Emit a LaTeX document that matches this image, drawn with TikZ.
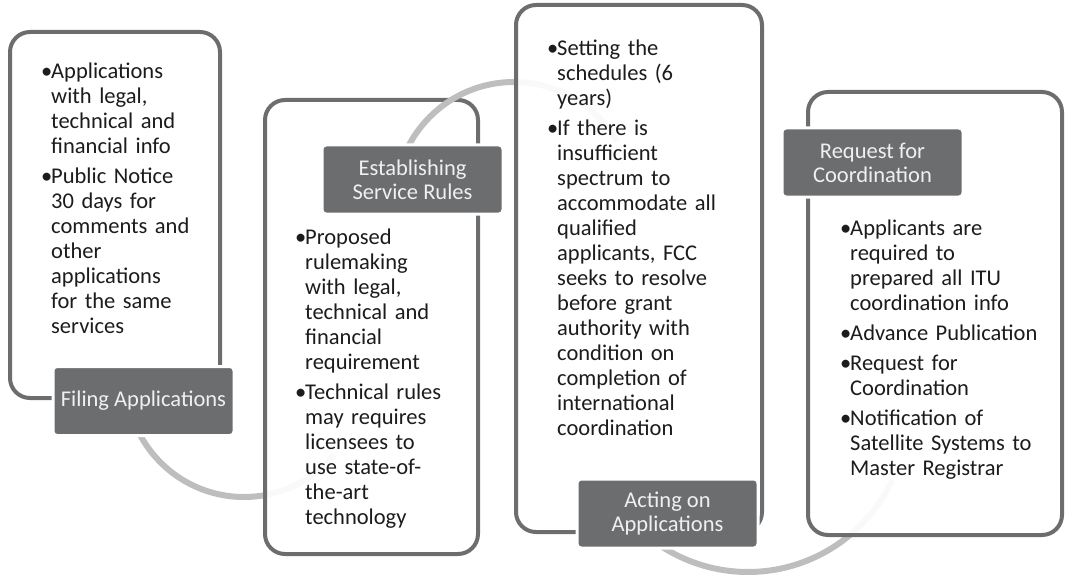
\documentclass[tikz,border=0pt]{standalone}
\usepackage{fontspec}
\setmainfont{Carlito}
\usetikzlibrary{positioning}
\definecolor{fg}{RGB}{28,28,28}
\definecolor{rim}{RGB}{108,109,111}
\definecolor{tagfill}{RGB}{108,109,111}
\definecolor{arcgray}{RGB}{190,190,190}
\definecolor{bg}{RGB}{255,255,255}
% Stichpunkt mit hängendem Einzug
\newcommand{\bul}[1]{\hangindent=10pt\hangafter=1\noindent\makebox[10pt][l]{\textbullet}#1\par}
\tikzset{
  every picture/.style={line join=round},
  every node/.style={font=\fontsize{22.5}{25}\selectfont},
  % Rahmen der Schritte (leicht durchscheinend, damit die Bögen dahinter blass bleiben)
  panel/.style={draw=rim, line width=4pt, fill=bg, fill opacity=0.92, rounded corners=20pt, inner sep=0pt},
  % Titelkästen mit weißem Rand
  tag/.style={fill=tagfill, draw=bg, line width=3pt, rounded corners=4pt, text=white!94!black,
    align=center, minimum width=181pt, minimum height=69pt, inner sep=0pt,
    font=\fontsize{22.5}{24}\selectfont},
  % Verbindungsbögen
  link/.style={arcgray, line width=6pt},
  txt/.style={anchor=north west, text=fg, text width=230pt, align=left, inner sep=0pt},
}
\begin{document}
\begin{tikzpicture}[x={(1pt,0pt)}, y={(0pt,-1pt)}]
  \useasboundingbox (0,0) rectangle (1068,575);
  % Mittelpunkte der Bögen
  \coordinate (m1) at (244,379);
  \coordinate (m2) at (514,201);
  \coordinate (m3) at (748,413);
  % Schritt 1
  \node[panel, minimum width=210pt, minimum height=366pt] (p1) at (115,215) {};
  \draw[link] (m1) ++(180:118) arc[start angle=180, end angle=40, radius=118];
  % Schritt 2
  \node[panel, minimum width=213pt, minimum height=454pt] (p2) at (371.5,327) {};
  \draw[link] (m2) ++(180:119) arc[start angle=180, end angle=330, radius=119];
  % Schritt 3
  \node[panel, minimum width=246pt, minimum height=527pt] (p3) at (639,268.5) {};
  \draw[link] (m3) ++(140:159) arc[start angle=140, end angle=25, radius=159];
  % Schritt 4
  \node[panel, minimum width=254pt, minimum height=443pt] (p4) at (935,313.5) {};
  % Titel
  \node[tag] (l1) at (143.5,401) {Filing Applications};
  \node[tag] (l2) at (412.5,179.5) {Establishing\\Service Rules};
  \node[tag] (l3) at (667.5,513.5) {Acting on\\Applications};
  \node[tag] (l4) at (872.5,162.5) {Request for\\Coordination};
  % Stichpunkte
  \node[txt] (t1) at (41,63) {%
    \bul{Applications\newline with legal,\newline technical and\newline financial info}
    \vspace{5pt}
    \bul{Public Notice\newline 30 days for\newline comments and\newline other\newline applications\newline for the same\newline services}};
  \node[txt] (t2) at (295,229) {%
    \bul{Proposed\newline rulemaking\newline with legal,\newline technical and\newline financial\newline requirement}
    \vspace{5pt}
    \bul{Technical rules\newline may requires\newline licensees to\newline use state-of-\newline the-art\newline technology}};
  \node[txt] (t3) at (547,40) {%
    \bul{Setting the\newline schedules (6\newline years)}
    \vspace{5pt}
    \bul{If there is\newline insufficient\newline spectrum to\newline accommodate all\newline qualified\newline applicants, FCC\newline seeks to resolve\newline before grant\newline authority with\newline condition on\newline completion of\newline international\newline coordination}};
  \node[txt] (t4) at (840,220) {%
    \bul{Applicants are\newline required to\newline prepared all ITU\newline coordination info}
    \vspace{5pt}
    \bul{Advance Publication}
    \vspace{5pt}
    \bul{Request for\newline Coordination}
    \vspace{5pt}
    \bul{Notification of\newline Satellite Systems to\newline Master Registrar}};
\end{tikzpicture}
\end{document}
